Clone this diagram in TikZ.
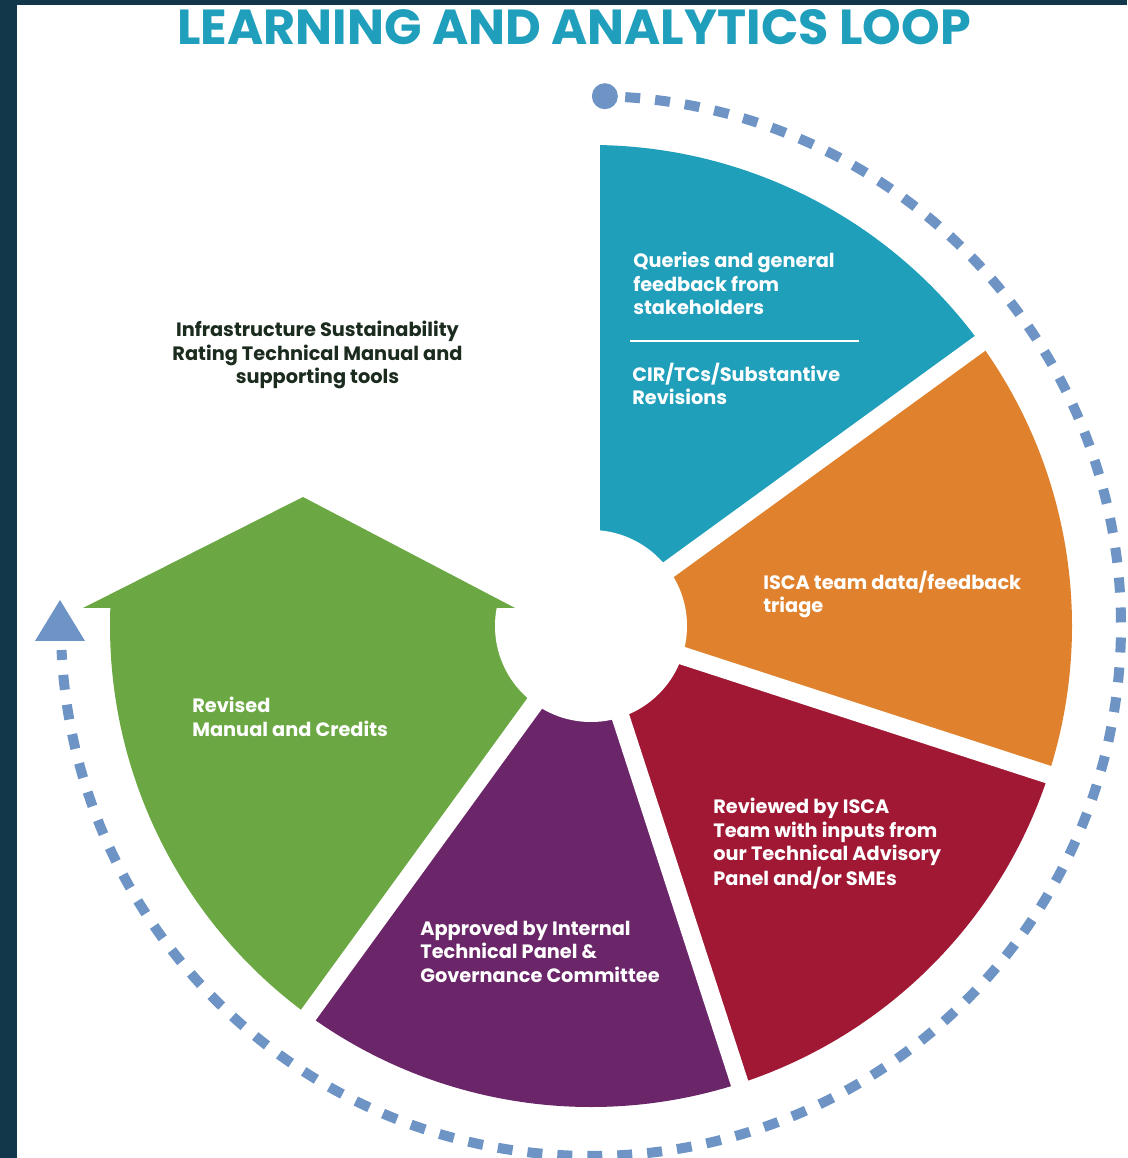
\documentclass[tikz,border=0pt]{standalone}
\usepackage{fontspec}
\setmainfont{Poppins}

\definecolor{segteal}{HTML}{1F9FBA}
\definecolor{segorange}{HTML}{E0822D}
\definecolor{segred}{HTML}{A01833}
\definecolor{segpurple}{HTML}{6B2669}
\definecolor{seggreen}{HTML}{6BA843}
\definecolor{loopblue}{HTML}{6E94C6}
\definecolor{framenavy}{HTML}{12364A}
\definecolor{titleteal}{HTML}{1F9FBB}
\definecolor{darktext}{HTML}{1B2B1E}

\begin{document}
\begin{tikzpicture}[
                x=0.02cm, y=0.02cm,
                every node/.style={
                        inner sep=0pt,
                        font=\bfseries\fontsize{11}{13.2}\selectfont
                    },
                seglabel/.style={text=white, align=left, anchor=north west},
                gapline/.style={white, line width=0.36cm},
                loopdash/.style={loopblue, line width=0.2cm, dash pattern=on 0.3cm off 0.3cm}
            ]

            % Moldura
            \useasboundingbox (-591,-532) rectangle (536,626);
            \fill[framenavy] (-591,-532) rectangle (536,626);
            \fill[white] (-574,-532) rectangle (536,621);

            % Setores coloridos
            \foreach \a/\b/\c in {90/36/segteal, 36/-18/segorange, -18/-72/segred, -72/-126/segpurple}
                \fill[\c] (0,0) -- (\a:481) arc[start angle=\a, end angle=\b, radius=481] -- cycle;
            \fill[seggreen] (0,0) -- (-126:481) arc[start angle=-126, end angle=-182.14, radius=481] -- (0,18) -- cycle;

            % Espacos entre setores e furo central
            \foreach \a in {90,36,-18,-72,-126}
                \draw[gapline] (0,0) -- (\a:500);
            \fill[white] (0,0) circle[radius=96];
            \fill[seggreen] (-508,18) -- (-288,129) -- (-76,18) -- cycle;

            % Laco tracejado
            \fill[loopblue] (88.5:530) circle[radius=13];
            \draw[loopdash] (86.3:530) arc[start angle=86.3, end angle=-177.4, radius=530];
            \fill[loopblue] (-531,26) -- (-556,-15) -- (-506,-15) -- cycle;

            % Textos
            \node[text=titleteal, font=\bfseries\fontsize{28}{34}\selectfont] (title) at (-17,598.5) {LEARNING AND ANALYTICS LOOP};
            \node[text=darktext, align=center, anchor=north] (manual) at (-273.5,305) {Infrastructure Sustainability\\Rating Technical Manual and\\supporting tools};
            \node[seglabel] (queries) at (42,374) {Queries and general\\feedback from\\stakeholders};
            \draw[white, line width=0.05cm] (39,285) -- (268,285);
            \node[seglabel] (cir) at (41,263) {CIR/TCs/Substantive\\Revisions};
            \node[seglabel] (triage) at (172,55) {ISCA team data/feedback\\triage};
            \node[seglabel] (review) at (122,-172) {Reviewed by ISCA\\Team with inputs from\\our Technical Advisory\\Panel and/or SMEs};
            \node[seglabel] (approved) at (-171,-295) {Approved by Internal\\Technical Panel \&\\Governance Committee};
            \node[seglabel] (revised) at (-399,-71) {Revised\\Manual and Credits};

        \end{tikzpicture}
\end{document}
